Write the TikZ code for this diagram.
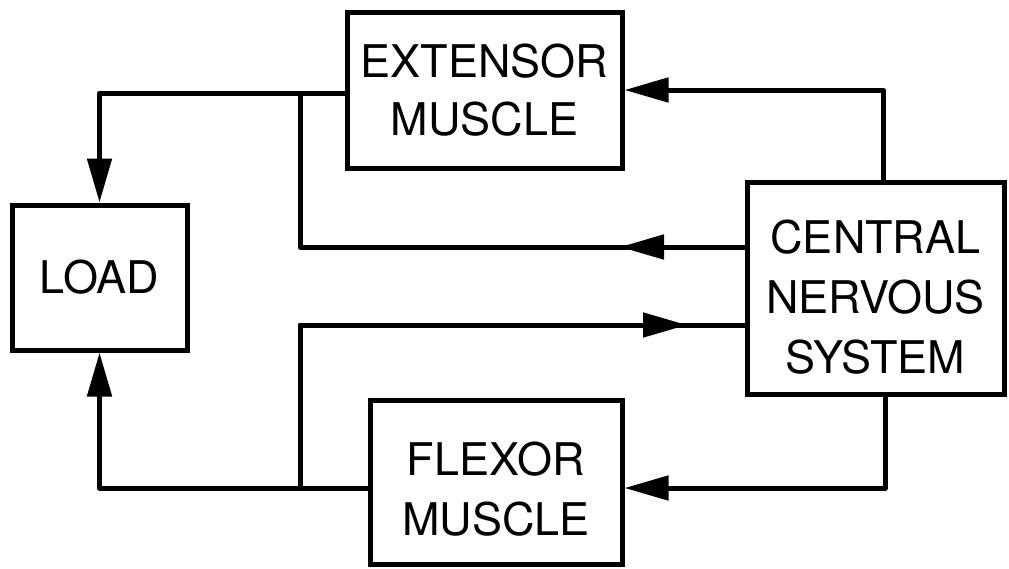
\documentclass[tikz,border=0pt]{standalone}
\usepackage{fontspec}
\setmainfont{TeX Gyre Heros}
\usetikzlibrary{arrows.meta}
\begin{document}
\begin{tikzpicture}[x=1pt,y=-1pt,
  box/.style={draw, line width=5pt, inner sep=0pt, align=center,
    font=\fontsize{45}{58}\selectfont},
  lbl/.style={inner sep=0pt, align=center, font=\fontsize{45}{60}\selectfont},
  conn/.style={line width=5pt, line join=round},
  tip/.style={conn, -{Triangle[length=44pt,width=24pt]}}]
\useasboundingbox[fill=white] (0,0) rectangle (1009,568);
\node[box, minimum width=275pt, minimum height=156pt] (ext) at (484.5,90) {EXTENSOR\\MUSCLE};
\node[box, minimum width=175pt, minimum height=145pt] (load) at (99.5,277.5) {LOAD};
\node[box, minimum width=257pt, minimum height=212pt,
  label={[lbl, yshift=-9pt]center:{CENTRAL\\NERVOUS\\SYSTEM}}] (cns) at (875.5,288) {};
\node[box, minimum width=252pt, minimum height=164pt,
  label={[lbl, yshift=-7pt]center:{FLEXOR\\MUSCLE}}] (flex) at (496,482) {};
% junctions, corners and arrow tips
\coordinate (j1) at (300,93);
\coordinate (j2) at (300,488);
\coordinate (c1) at (883,90);
\coordinate (c2) at (885,488);
\coordinate (t1) at (620,247);
\coordinate (t2) at (687,325);
% extensor -> load
\draw[tip] (ext.west |- j1) -| (load.north);
% CNS -> extensor
\draw[tip] (cns.north -| c1) |- (ext.east);
% CNS -> junction 1 (upper feedback line)
\draw[conn] (cns.west |- t1) -- (j1 |- t1) -- (j1);
\draw[tip] (cns.west |- t1) -- (t1);
% junction 2 -> CNS (lower line)
\draw[conn] (j2) |- (cns.west |- t2);
\draw[tip] (j2) |- (t2);
% flexor -> load
\draw[tip] (flex.west |- j2) -| (load.south);
% CNS -> flexor
\draw[tip] (cns.south -| c2) |- (flex.east |- c2);
\end{tikzpicture}
\end{document}
